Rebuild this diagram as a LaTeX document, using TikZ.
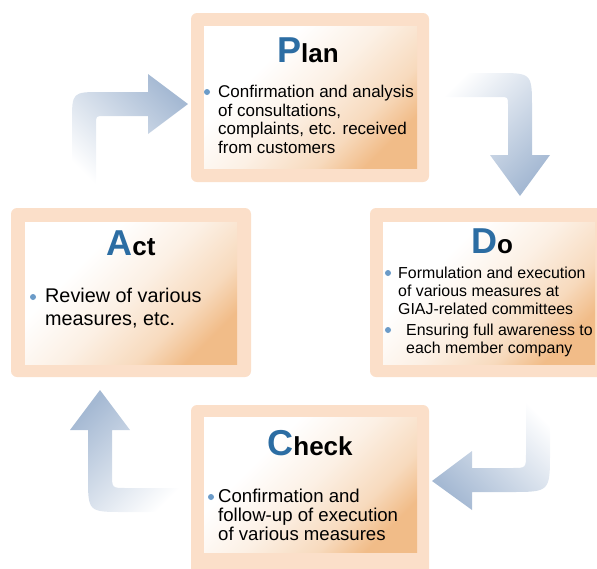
\documentclass[tikz,border=0pt]{standalone}
\usepackage{fontspec}
\setmainfont{Liberation Sans}

\definecolor{outerpeach}{HTML}{FBDFC9}
\definecolor{innerpeach}{HTML}{F1BC88}
\definecolor{letterblue}{HTML}{2C6DA3}
\definecolor{dotblue}{HTML}{6B9BC8}
\definecolor{arrowblue}{HTML}{A5B9D3}

\pgfdeclareverticalshading{peachfade}{100bp}{color(0bp)=(innerpeach); color(25bp)=(innerpeach); color(35bp)=(innerpeach!55); color(50bp)=(innerpeach!22); color(66bp)=(white); color(100bp)=(white)}

\tikzset{
	outerbox/.style={fill=outerpeach, rounded corners=6pt},
	innerbox/.style={shading=peachfade, shading angle=45},
	title/.style={font=\bfseries\fontsize{26}{26}\selectfont, anchor=base, inner sep=0pt},
	body/.style={align=left, anchor=north west, inner sep=0pt},
	bulletdot/.style={circle, fill=dotblue, inner sep=0pt, minimum size=6pt},
}

\newcommand{\bigletter}[1]{\textcolor{letterblue}{\fontsize{36}{36}\selectfont #1}}

\begin{document}
\begin{tikzpicture}[x=1pt,y=-1pt]
	\useasboundingbox (0,0) rectangle (597,568);
	\clip (0,0) rectangle (597,568);

	% arrows
	\shade[top color=arrowblue, bottom color=white, shading angle=-45]
		(72,197) -- (72,122) .. controls (72,92) .. (102,92) -- (148,92) -- (148,74)
		-- (188,104) -- (148,134) -- (148,116) -- (104,116) .. controls (96,116) .. (96,124)
		-- (96,197) -- cycle;
	\shade[top color=white, bottom color=arrowblue, shading angle=45]
		(430,73) -- (497,73) .. controls (532,73) .. (532,108) -- (532,155) -- (550,155)
		-- (520,196) -- (490,155) -- (508,155) -- (508,105) .. controls (508,97) .. (500,97)
		-- (430,97) -- cycle;
	\shade[top color=white, bottom color=arrowblue, shading angle=-45]
		(526,390) -- (550,390) -- (550,452) .. controls (550,492) .. (510,492) -- (472,492)
		-- (472,510) -- (432,481) -- (472,451) -- (472,468) -- (512,468)
		.. controls (526,468) .. (526,454) -- cycle;
	\shade[top color=arrowblue, bottom color=white, shading angle=45]
		(192,488) -- (126,488) .. controls (112,488) .. (112,474) -- (112,430) -- (130,430)
		-- (100,390) -- (70,430) -- (88,430) -- (88,476) .. controls (88,512) .. (124,512)
		-- (192,512) -- cycle;

	% boxes
	\fill[outerbox] (191,13) rectangle (429,182);
	\shade[innerbox] (204,26) rectangle (417,168);
	\fill[outerbox] (370,208) rectangle (612,377);
	\shade[innerbox] (383,222) rectangle (595,364);
	\fill[outerbox] (11,208) rectangle (251,377);
	\shade[innerbox] (25,222) rectangle (237,364);
	\fill[outerbox] (191,405) rectangle (429,585);
	\shade[innerbox] (204,417) rectangle (417,552);

	% Plan
	\node[title] (plantitle) at (308,62) {\bigletter{P}lan};
	\node[bulletdot] (plandot) at (207,92) {};
	\node[body, font=\fontsize{17}{18.6}\selectfont] (plantext) at (218,85)
		{Confirmation and analysis\\of consultations,\\complaints, etc. received\\from customers};

	% Do
	\node[title] (dotitle) at (492,253) {\bigletter{D}o};
	\node[bulletdot] (dodotone) at (388,273) {};
	\node[body, font=\fontsize{15.9}{17.8}\selectfont] (dotextone) at (398,267)
		{Formulation and execution\\of various measures at\\GIAJ-related committees};
	\node[bulletdot] (dodottwo) at (388,330) {};
	\node[body, font=\fontsize{15.9}{17.8}\selectfont] (dotexttwo) at (406,324)
		{Ensuring full awareness to\\each member company};

	% Act
	\node[title] (acttitle) at (131,255) {\bigletter{A}ct};
	\node[bulletdot] (actdot) at (33,297) {};
	\node[body, font=\fontsize{19.8}{23}\selectfont] (acttext) at (45,288)
		{Review of various\\measures, etc.};

	% Check
	\node[title] (checktitle) at (310,455) {\bigletter{C}heck};
	\node[bulletdot] (checkdot) at (211,497) {};
	\node[body, font=\fontsize{18.6}{18.8}\selectfont] (checktext) at (218,489)
		{Confirmation and\\follow-up of execution\\of various measures};
\end{tikzpicture}
\end{document}
